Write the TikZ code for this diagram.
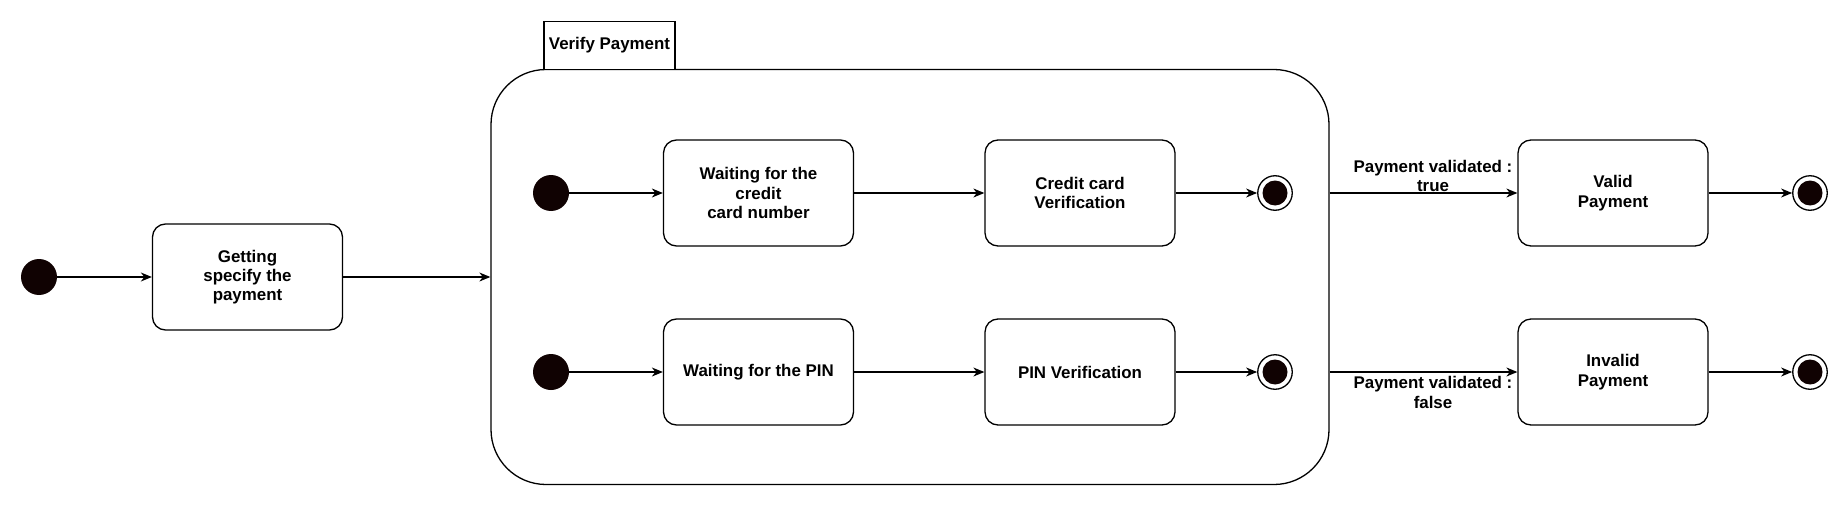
\documentclass[tikz,border=0pt]{standalone}
\usepackage{fontspec}
\setmainfont{Liberation Sans}
\usetikzlibrary{arrows.meta}
\definecolor{dotc}{RGB}{16,2,2}
\begin{document}
\begin{tikzpicture}[x=1pt,y=-1pt,
 every node/.style={font=\bfseries\fontsize{16.9}{19.3}\selectfont},
 statebox/.style={draw, line width=1.3pt, rounded corners=13pt, minimum width=190pt, minimum height=106pt, align=center, inner sep=0pt},
 initdot/.style={circle, fill=dotc, minimum size=36pt, inner sep=0pt},
 finaldot/.style={circle, draw, line width=1.3pt, fill=white, minimum size=34.5pt, inner sep=0pt,
   path picture={\fill[dotc] (path picture bounding box.center) circle (12.5pt);}},
 flow/.style={line width=1.3pt, -{Stealth[length=11pt,width=9pt,inset=3.5pt]}},
 lbl/.style={align=center, inner sep=0pt}]
\useasboundingbox (0,0) rectangle (1847,508);
% outer level
\node[initdot] (s0) at (39,277) {};
\node[statebox] (get) at (247.5,277) {Getting\\specify the\\payment};
\node[draw, line width=1.3pt, rounded corners=55pt, minimum width=838pt, minimum height=415pt] (comp) at (910,277) {};
\node[draw, line width=1.3pt, fill=white, minimum width=131pt, minimum height=48pt, inner sep=0pt] (tab) at (609.5,45.5) {Verify Payment};
% inner region
\node[initdot] (a0) at (551,193) {};
\node[statebox] (wcc) at (758.5,193) {Waiting for the\\credit\\card number};
\node[statebox] (ccv) at (1080,193) {Credit card\\Verification};
\node[finaldot] (af) at (1275,193) {};
\node[initdot] (b0) at (551,372) {};
\node[statebox] (wpin) at (758.5,372) {Waiting for the PIN};
\node[statebox] (pinv) at (1080,372) {PIN Verification};
\node[finaldot] (bf) at (1275,372) {};
% results
\node[statebox] (valid) at (1613,193) {Valid\\Payment};
\node[statebox] (invalid) at (1613,372) {Invalid\\Payment};
\node[finaldot] (vf) at (1810,193) {};
\node[finaldot] (invf) at (1810,372) {};
\coordinate (cvt) at (comp.east |- valid.west);
\coordinate (cvf) at (comp.east |- invalid.west);
% connectors
\draw[flow] (s0) -- (get);
\draw[flow] (get.east) -- (comp.west);
\draw[flow] (a0) -- (wcc);
\draw[flow] (wcc) -- (ccv);
\draw[flow] (ccv) -- (af);
\draw[flow] (b0) -- (wpin);
\draw[flow] (wpin) -- (pinv);
\draw[flow] (pinv) -- (bf);
\draw[flow] (cvt) -- (valid.west);
\draw[flow] (cvf) -- (invalid.west);
\draw[flow] (valid) -- (vf);
\draw[flow] (invalid) -- (invf);
\node[lbl] (lt) at (1433,176) {Payment validated :\\true};
\node[lbl] (lf) at (1433,392.5) {Payment validated :\\false};
\end{tikzpicture}
\end{document}
